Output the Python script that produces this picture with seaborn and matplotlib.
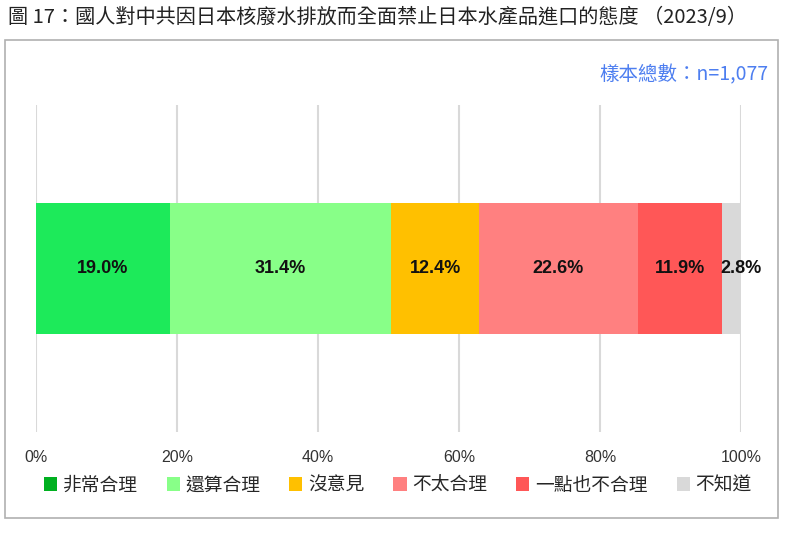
import matplotlib
matplotlib.use("Agg")
import matplotlib.pyplot as plt
import matplotlib.patches as mpatches
import seaborn as sns
import pandas as pd
import numpy as np

categories = ["非常合理", "還算合理", "沒意見", "不太合理", "一點也不合理", "不知道"]
values = [19.0, 31.4, 12.4, 22.6, 11.9, 2.8]
labels = ["19.0%", "31.4%", "12.4%", "22.6%", "11.9%", "2.8%"]
bar_colors = ["#1dea5a", "#88ff88", "#ffc000", "#ff8080", "#ff5757", "#d9d9d9"]
legend_colors = ["#00b020", "#88ff88", "#ffc000", "#ff8080", "#ff5757", "#d9d9d9"]
xticks = [0, 20, 40, 60, 80, 100]
xticklabels = ["0%", "20%", "40%", "60%", "80%", "100%"]
title = "圖 17：國人對中共因日本核廢水排放而全面禁止日本水產品進口的態度 （2023/9）"
sample_note = "樣本總數：n=1,077"

sns.set_theme(style="white")
plt.rcParams["font.family"] = ["Liberation Sans", "Noto Sans CJK TC", "DejaVu Sans"]

fig = plt.figure(figsize=(8, 5.37), dpi=100)
ax = fig.add_axes([0.045, 0.1955, 0.8813, 0.609])

cum = np.cumsum(values)
df = pd.DataFrame({"cat": categories, "val": values, "cum": cum, "row": ["r"] * len(values)})

# draw cumulative bars from the longest to the shortest (stacked look)
for i in range(len(values) - 1, -1, -1):
    sns.barplot(data=df.iloc[[i]], x="cum", y="row", orient="h", color=bar_colors[i],
                width=0.4, saturation=1, ax=ax, zorder=3, linewidth=0)

starts = cum - np.array(values)
for i, (s, v, lab) in enumerate(zip(starts, values, labels)):
    xpos = s + v / 2
    if i == len(values) - 1:
        xpos += 1.3
    ax.text(xpos, 0, lab, ha="center", va="center", fontsize=13, fontweight="bold",
            color="#111111", zorder=5)

ax.set_xlim(0, 100)
ax.set_ylim(0.5, -0.5)
ax.set_xticks(xticks)
ax.set_xticklabels(xticklabels, fontsize=11.5, color="#333333")
ax.set_yticks([])
ax.set_xlabel("")
ax.set_ylabel("")
ax.tick_params(axis="x", length=0, pad=13)
for sp in ax.spines.values():
    sp.set_visible(False)
ax.xaxis.grid(True, color="#d9d9d9", linewidth=1.5, zorder=0)
ax.set_axisbelow(True)

# outer frame
frame = mpatches.Rectangle((5 / 800, 1 - 518 / 537), 773 / 800, 478 / 537,
                           transform=fig.transFigure, fill=False, edgecolor="#b0b0b0",
                           linewidth=1.2)
fig.add_artist(frame)

fig.text(8 / 800, 1 - 18 / 537, title, ha="left", va="center", fontsize=14.5,
         color="#222222", family=["Noto Sans CJK TC", "DejaVu Sans"])
fig.text(768 / 800, 1 - 75 / 537, sample_note, ha="right", va="center", fontsize=14,
         color="#4d7ef0", family=["Noto Sans CJK TC", "DejaVu Sans"])

handles = [mpatches.Patch(facecolor=c, edgecolor="none", label=l)
           for c, l in zip(legend_colors, categories)]
fig.legend(handles=handles, loc="center", bbox_to_anchor=(0.497, 1 - 485 / 537), ncol=6,
           frameon=False, handlelength=0.7, handleheight=0.7, handletextpad=0.3,
           columnspacing=1.55, prop={"family": ["Noto Sans CJK TC", "DejaVu Sans"], "size": 13.5})

fig.savefig("out.png", dpi=100)
